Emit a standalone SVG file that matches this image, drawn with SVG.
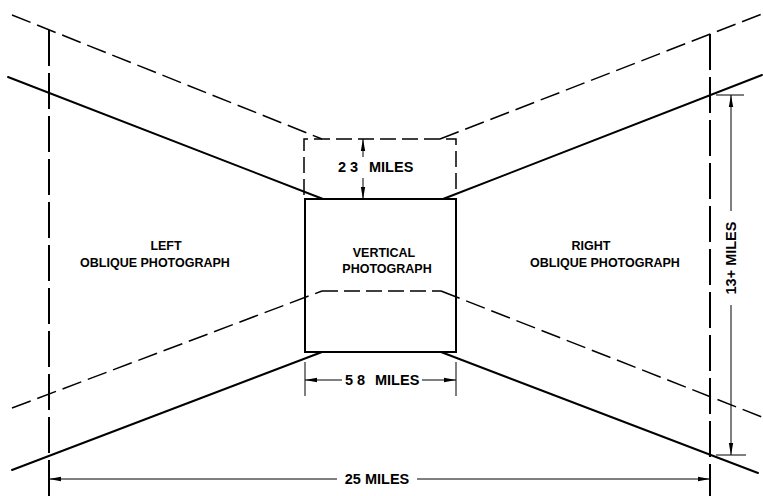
<svg xmlns="http://www.w3.org/2000/svg" width="763" height="496" viewBox="0 0 763 496">
<style>
.solid{stroke:#000;stroke-width:2;fill:none;stroke-linecap:round}
.dash{stroke:#000;stroke-width:1.5;fill:none;stroke-dasharray:20 7}
.bdash{stroke:#000;stroke-width:1.5;fill:none;stroke-dasharray:16 6}
.vdash{stroke:#000;stroke-width:2;fill:none;stroke-dasharray:36 7}
.dim{stroke:#000;stroke-width:1;fill:none}
.lbl{font-family:"Liberation Sans",Arial,sans-serif;font-weight:bold;font-size:12.5px;fill:#000}
.dl{font-family:"Liberation Sans",Arial,sans-serif;font-weight:bold;font-size:14.5px;fill:#000}
</style>
<defs>
<marker id="ar" viewBox="0 0 12 6" refX="12" refY="3" markerWidth="12" markerHeight="6" markerUnits="userSpaceOnUse" orient="auto">
<path d="M0,0.8 L12,3 L0,5.2 Z" fill="#000"/>
</marker>
</defs>
<rect width="763" height="496" fill="#fff"/>
<g id="connectors">
<line class="dash" x1="12" y1="15" x2="322" y2="139"/>
<line class="solid" x1="8" y1="77" x2="323" y2="199"/>
<line class="dash" x1="12" y1="408" x2="322" y2="291"/>
<line class="solid" x1="12" y1="470" x2="322" y2="352"/>
<line class="dash" x1="440" y1="139" x2="762" y2="14"/>
<line class="solid" x1="443" y1="199" x2="762" y2="75"/>
<line class="dash" x1="441" y1="291" x2="762" y2="417"/>
<line class="solid" x1="441" y1="352" x2="758" y2="473"/>
<line class="vdash" x1="49" y1="30" x2="49" y2="496"/>
<line class="vdash" x1="710" y1="34" x2="710" y2="496"/>
</g>
<g id="vertical-photo">
<path class="bdash" d="M304,195 V139 H456 V195"/>
<rect x="305" y="199" width="151" height="153" fill="none" stroke="#000" stroke-width="2"/>
<line class="bdash" x1="322" y1="291" x2="441" y2="291"/>
<text class="lbl" x="384" y="257" text-anchor="middle">VERTICAL</text>
<text class="lbl" x="387" y="273" text-anchor="middle">PHOTOGRAPH</text>
</g>
<g id="left-oblique">
<text class="lbl" x="166" y="250" text-anchor="middle">LEFT</text>
<text class="lbl" x="155" y="267" text-anchor="middle">OBLIQUE PHOTOGRAPH</text>
</g>
<g id="right-oblique">
<text class="lbl" x="591" y="250" text-anchor="middle">RIGHT</text>
<text class="lbl" x="605" y="267" text-anchor="middle">OBLIQUE PHOTOGRAPH</text>
</g>
<g id="dim-2-3">
<line class="dim" x1="363" y1="157" x2="363" y2="139" marker-end="url(#ar)"/>
<line class="dim" x1="363" y1="178" x2="363" y2="199" marker-end="url(#ar)"/>
<text class="dl" x="338" y="172">2 3<tspan x="369">MILES</tspan></text>
</g>
<g id="dim-5-8">
<line class="dim" x1="305" y1="362" x2="305" y2="396"/>
<line class="dim" x1="456" y1="362" x2="456" y2="396"/>
<line class="dim" x1="342" y1="380" x2="305" y2="380" marker-end="url(#ar)"/>
<line class="dim" x1="422" y1="380" x2="456" y2="380" marker-end="url(#ar)"/>
<text class="dl" x="345" y="385">5 8<tspan x="375">MILES</tspan></text>
</g>
<g id="dim-25">
<line class="dim" x1="337" y1="479" x2="49" y2="479" marker-end="url(#ar)"/>
<line class="dim" x1="417" y1="479" x2="710" y2="479" marker-end="url(#ar)"/>
<text class="dl" x="377" y="484" text-anchor="middle">25 MILES</text>
</g>
<g id="dim-13">
<line class="dim" x1="716" y1="95" x2="744" y2="95"/>
<line class="dim" x1="716" y1="455" x2="746" y2="455"/>
<line class="dim" x1="731" y1="211" x2="731" y2="95" marker-end="url(#ar)"/>
<line class="dim" x1="731" y1="305" x2="731" y2="455" marker-end="url(#ar)"/>
<text class="dl" transform="translate(736,258) rotate(-90)" text-anchor="middle">13+ MILES</text>
</g>
</svg>
